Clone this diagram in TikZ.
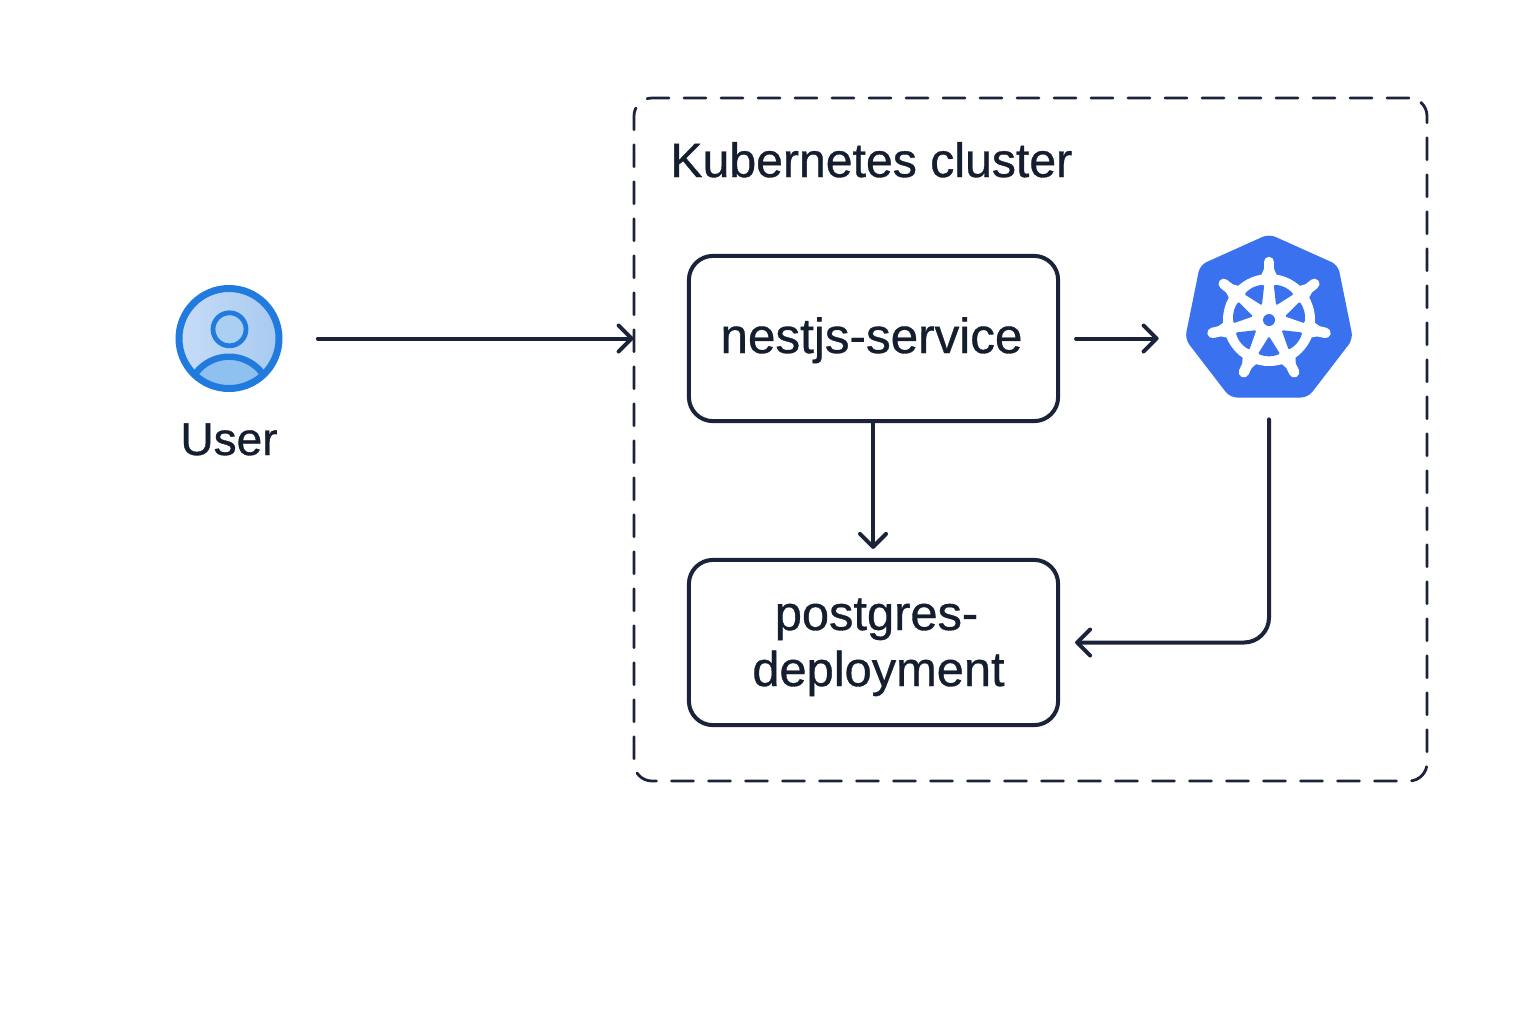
\documentclass[tikz,border=0pt]{standalone}
\usepackage{fontspec}
\setmainfont[FakeBold=0.7]{Liberation Sans}
\usetikzlibrary{arrows.meta,calc}
\definecolor{ink}{HTML}{1A2339}
\definecolor{txt}{HTML}{141E2E}
\definecolor{kblue}{HTML}{3A71EE}
\definecolor{ublue}{HTML}{217BDE}
\definecolor{ulightA}{HTML}{C6DCF6}
\definecolor{ulightB}{HTML}{A8CAF0}
\definecolor{uhead}{HTML}{ABCFF3}
\definecolor{ubody}{HTML}{8FC1F0}
\tikzset{
  conn/.style={draw=ink,line width=2pt,line cap=round,-{Straight Barb[length=6.5pt,width=13pt,line width=2pt,round]}},
  svcbox/.style={draw=ink,line width=2pt,rounded corners=12pt,fill=white,minimum width=184.6pt,minimum height=82.6pt,inner sep=0pt,text=txt,align=center},
  clusterbox/.style={draw=ink,line width=1.4pt,rounded corners=9pt,dash pattern=on 11pt off 7.5pt,line cap=round,minimum width=396.5pt,minimum height=341.5pt,inner sep=0pt},
  lbl/.style={text=txt,inner sep=0pt},
  ghost/.style={inner sep=0pt,minimum width=83pt,minimum height=81pt}
}
\begin{document}
\begin{tikzpicture}[x=0.5pt,y=-0.5pt]
\useasboundingbox (0,0) rectangle (1536,1024);
\fill[white] (0,0) rectangle (1536,1024);
% cluster
\node[clusterbox] (cluster) at (1030.5,439.5) {};
\node[lbl,anchor=base west,font=\fontsize{24.1}{28}\selectfont] (clusterlabel) at (670,177) {Kubernetes cluster};
% service boxes
\node[svcbox,font=\fontsize{24.7}{28}\selectfont] (nest) at (873.5,338.5) {\kern-2pt\raisebox{0pt}[14.5pt][0pt]{nestjs-service}};
\node[svcbox,font=\fontsize{24.4}{28}\selectfont] (post) at (873.5,642.5) {\kern3pt\raisebox{0pt}[15.5pt][0pt]{postgres-}\\\kern5pt\raisebox{0pt}[10pt][0pt]{deployment}};
% kubernetes logo
\node[ghost] (kube) at (1269,316) {};
\fill[kblue,rounded corners=3.5pt] (1269,234) -- (1338,265) -- (1353,339) -- (1308,397.5) -- (1230,397.5) -- (1185,339) -- (1200,265) -- cycle;
\begin{scope}[shift={(1269,320)}]
  \fill[white] (0,0) circle (46);
  \foreach \k in {0,...,6}{
    \pgfmathsetmacro{\s}{-90+\k*360/7}
    \pgfmathsetmacro{\c}{\s+25.71}
    \draw[white,line width=5.2pt,line cap=round] (\s:40) -- (\s:58);
    \fill[white] (\s-12:43) -- (\s-3:56) -- (\s+3:56) -- (\s+12:43) -- cycle;
    \fill[kblue,rounded corners=0.6pt] (\c:16.3) -- (\c-18:35.6) -- (\c-9:36.2) -- (\c:36.4) -- (\c+9:36.2) -- (\c+18:35.6) -- cycle;
  }
  \fill[kblue] (0,0) circle (6);
\end{scope}
% user icon
\node[lbl,minimum size=53.5pt,circle] (user) at (229,338.5) {};
\shade[left color=ulightA,right color=ulightB] (229,338.5) circle (50);
\begin{scope}
  \clip (229,338.5) circle (50);
  \fill[ubody] (229,398.5) circle (41.8);
  \draw[ublue,line width=3.2pt] (229,398.5) circle (41.8);
\end{scope}
\draw[ublue,fill=uhead,line width=2.4pt] (229.5,329.3) circle (16.5);
\draw[ublue,line width=3.5pt] (229,338.5) circle (50);
\node[lbl,anchor=base,font=\fontsize{23}{28}\selectfont] (userlabel) at (229,455) {User};
% connectors
\draw[conn,shorten <=17.5pt,shorten >=-0.5pt] (user.east) -- (user.east -| cluster.west);
\draw[conn,shorten <=8pt,shorten >=13.5pt] (nest.east) -- (nest.east -| kube.west);
\draw[conn,shorten >=4.5pt] (nest.south -| 873,0) -- (post.north -| 873,0);
\draw[conn,rounded corners=12.5pt,shorten <=11pt,shorten >=7.5pt] (kube.south) |- (post.east);
\end{tikzpicture}
\end{document}
